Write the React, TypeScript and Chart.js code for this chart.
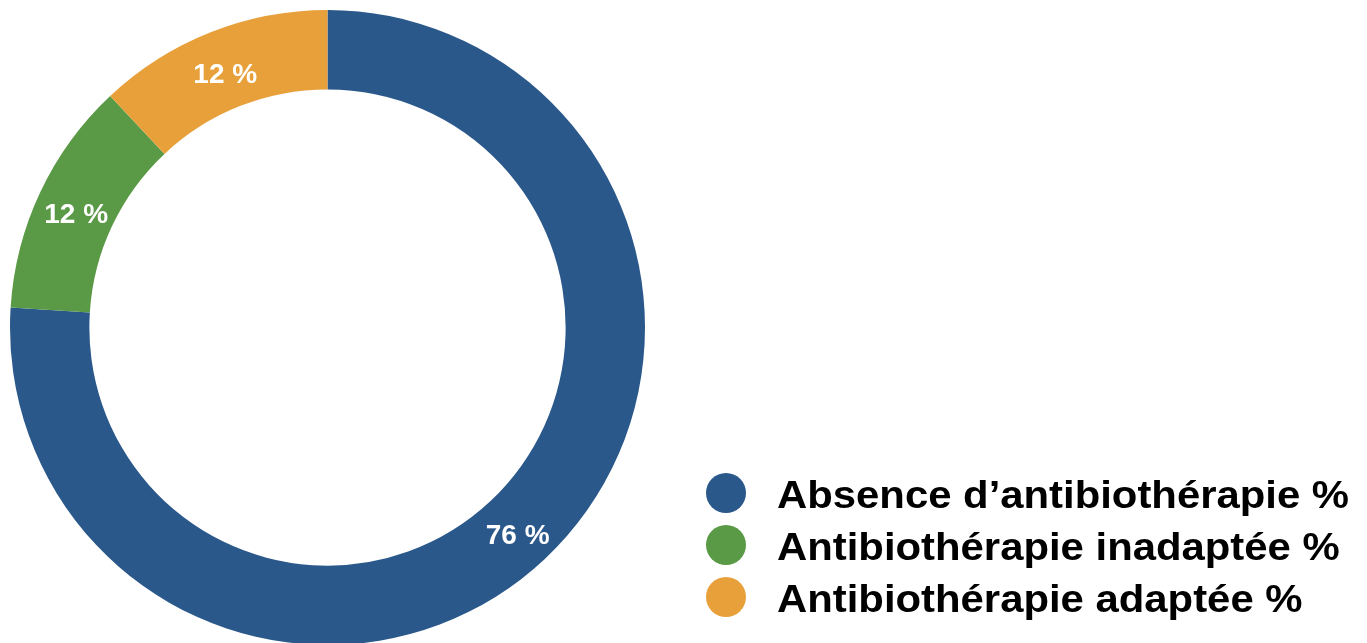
import React, { useEffect, useRef } from "react";
import { Chart, registerables } from "chart.js";

Chart.register(...registerables);

const categories = [
  "Absence d\u2019antibioth\u00e9rapie %",
  "Antibioth\u00e9rapie inadapt\u00e9e %",
  "Antibioth\u00e9rapie adapt\u00e9e %",
];
const values = [76, 12, 12];
const valueLabels = ["76 %", "12 %", "12 %"];
const colors = ["#2a588b", "#5a9946", "#e8a03b"];

const FONT = '"Liberation Sans", Arial, Helvetica, sans-serif';

const overlayPlugin = {
  id: "overlay",
  afterDatasetsDraw(chart: any) {
    const ctx = chart.ctx;
    const meta = chart.getDatasetMeta(0);
    ctx.save();
    ctx.fillStyle = "#ffffff";
    ctx.font = `bold 28px ${FONT}`;
    ctx.textAlign = "center";
    ctx.textBaseline = "alphabetic";
    meta.data.forEach((arc: any, i: number) => {
      const p = arc.getCenterPoint();
      ctx.fillText(valueLabels[i], p.x, p.y + 14);
    });
    // legend
    const lx = 726;
    const ly0 = 493;
    const step = 52;
    const sx = 1.073;
    categories.forEach((c, i) => {
      const y = ly0 + i * step;
      ctx.fillStyle = colors[i];
      ctx.beginPath();
      ctx.arc(lx, y, 20, 0, Math.PI * 2);
      ctx.fill();
      ctx.save();
      ctx.translate(777, y + 15);
      ctx.scale(sx, 1);
      ctx.fillStyle = "#000000";
      ctx.font = `bold 39px ${FONT}`;
      ctx.textAlign = "left";
      ctx.textBaseline = "alphabetic";
      ctx.fillText(c, 0, 0);
      ctx.restore();
    });
    ctx.restore();
  },
};

export default function App() {
  const ref = useRef<HTMLCanvasElement | null>(null);
  useEffect(() => {
    document.body.style.margin = "0";
    document.body.style.overflow = "hidden";
    const canvas = ref.current!;
    const chart = new Chart(canvas, {
      type: "doughnut",
      data: {
        labels: categories,
        datasets: [
          {
            data: values,
            backgroundColor: colors,
            borderWidth: 0,
          },
        ],
      },
      options: {
        responsive: false,
        animation: false,
        devicePixelRatio: 1,
        cutout: "75%",
        layout: { padding: { left: 10, top: 10, right: 722, bottom: 55 } },
        plugins: {
          legend: { display: false },
          tooltip: { enabled: false },
        },
      },
      plugins: [overlayPlugin],
    });
    return () => chart.destroy();
  }, []);
  return (
    <div
      style={{
        position: "fixed",
        left: 0,
        top: 0,
        width: 1367,
        height: 643,
        overflow: "hidden",
        background: "#ffffff",
      }}
    >
      <canvas ref={ref} width={1367} height={700} style={{ display: "block" }} />
    </div>
  );
}
